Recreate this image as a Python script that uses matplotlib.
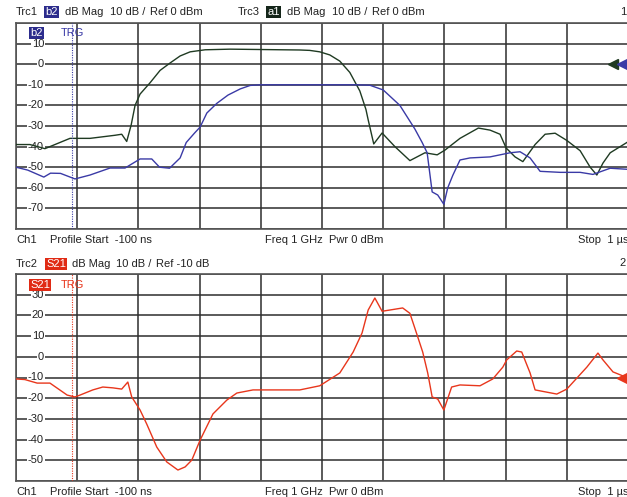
import numpy as np
import matplotlib
matplotlib.use('Agg')
import matplotlib.pyplot as plt
from matplotlib.transforms import blended_transform_factory

plt.rcParams['font.family'] = ['Liberation Sans', 'DejaVu Sans']
plt.rcParams['font.size'] = 8

# time axis (ns) and screen scales
t_start, t_stop = -100, 1000
upper_ylim = (-80, 20)
lower_ylim = (-60, 40)
upper_ticks = [10, 0, -10, -20, -30, -40, -50, -60, -70]
lower_ticks = [30, 20, 10, 0, -10, -20, -30, -40, -50]
ref_upper = 0
ref_lower = -10

# Trc3 a1 (dark green)
a1_t = [-100, -75, -48, -30, -3, 33, 78, 90, 99, 107, 114, 123, 141, 159, 177, 195,
        213, 240, 285, 410, 428, 446, 464, 482, 500, 518, 529, 533, 543, 558, 581,
        608, 635, 657, 671, 698, 731, 752, 770, 781, 797, 811, 833, 851, 869, 890,
        914, 932, 944, 955, 968, 998]
a1_db = [-39, -39, -41, -39, -36, -36, -34.5, -34, -37.5, -29.5, -20, -14.5, -9, -3, 0.6, 4,
         6, 7, 7.3, 6.9, 6.7, 6, 4.5, 1.5, -4, -13, -22, -27, -38.7, -33.4, -40,
         -46.8, -43, -44, -41.7, -36, -31, -32, -34, -40.7, -45, -47.3, -39, -34, -33.5, -37,
         -42, -50, -53.8, -48, -43, -38]

# Trc1 b2 (blue)
b2_t = [-100, -79, -50, -38, -20, 6, 33, 69, 96, 123, 144, 158, 176, 195, 206, 221, 231,
        243, 261, 281, 303, 321, 339, 513, 536, 560, 590, 617, 630, 639, 648, 658, 669,
        676, 685, 698, 716, 752, 788, 806, 824, 842, 878, 914, 937, 968, 998]
b2_db = [-50, -51.4, -54.8, -52.9, -53, -55.7, -53.8, -50.4, -50.4, -46, -46, -50, -50.5, -45.5, -38, -33.4, -30.5,
         -23.7, -19, -15, -12, -10.3, -10, -10, -10.2, -12.5, -20, -31.5, -38, -43, -62, -63.5, -68,
         -60, -54, -46.5, -45.5, -45, -43, -42.5, -45.5, -52, -52.5, -52.5, -53.5, -50.5, -51]

# Trc2 S21 (red)
s21_t = [-100, -84, -62, -39, -8, 6, 15, 38, 56, 74, 90, 101, 108, 123, 135, 153, 171,
         191, 204, 216, 231, 254, 279, 297, 326, 410, 446, 482, 506, 522, 533, 545, 558,
         572, 595, 608, 621, 631, 640, 648, 658, 669, 683, 698, 734, 757, 775, 782, 800,
         809, 824, 833, 872, 890, 926, 946, 955, 973, 998]
s21_db = [-10.7, -11, -12.7, -12.7, -18.5, -19.4, -18.5, -16, -14.6, -15, -15.6, -12.2, -19.4, -25.7, -32.5, -43.6, -50.8,
          -54.7, -53.2, -49.9, -40.2, -27.6, -20.9, -17.5, -16, -16, -14, -7.8, 2.3, 11.5, 22.6, 28.4, 22,
          22.6, 23.6, 21, 10.5, 2.3, -7.8, -19.4, -20.4, -25.7, -14.6, -13.6, -14, -10.7, -5, -1.5, 2.8,
          2.3, -7.8, -16, -18, -15.6, -5, 1.8, -1.5, -7.3, -10]

blue = '#3a3aa6'
green = '#1f3a22'
red = '#e8361c'
grid_c = '#2e2e2e'

W, H = 627, 497
fig = plt.figure(figsize=(W / 100, H / 100), dpi=100)


def px_ax(top, bottom):
    return [16 / W, 1 - bottom / H, 612 / W, (bottom - top) / H]


def setup(ax, ylim, ticks):
    ax.set_xlim(t_start, t_stop)
    ax.set_ylim(*ylim)
    ax.set_xticks(np.linspace(t_start, t_stop, 11))
    ax.set_yticks(np.arange(ylim[0], ylim[1] + 1, 10))
    ax.tick_params(length=0, labelbottom=False, labelleft=False)
    ax.grid(True, color=grid_c, lw=1.1)
    for s in ax.spines.values():
        s.set_color('#555555')
        s.set_linewidth(1.2)
    tr = blended_transform_factory(ax.transAxes, ax.transData)
    for v in ticks:
        ax.text(28 / 612, v, str(v), transform=tr, ha='right', va='center',
                fontsize=8, color='#222222',
                bbox=dict(facecolor='white', edgecolor='none', pad=0.6), zorder=3)


def ftext(x, y, s, color='#222222', box=None, **kw):
    kwargs = dict(fontsize=8, color=color, va='center', ha='left')
    kwargs.update(kw)
    if box:
        kwargs['color'] = 'white'
        kwargs['bbox'] = dict(facecolor=box, edgecolor='none', pad=0.8)
    fig.text(x / W, 1 - y / H, s, **kwargs)


# ---- upper screen (Trc1 / Trc3)
ax1 = fig.add_axes(px_ax(23, 229))
setup(ax1, upper_ylim, upper_ticks)
ax1.plot(a1_t, a1_db, color=green, lw=1.0, zorder=4)
ax1.plot(b2_t, b2_db, color=blue, lw=1.0, zorder=4)
ax1.axvline(0, color=blue, lw=0.8, ls=(0, (1, 1.2)), zorder=4)
tr1 = blended_transform_factory(ax1.transAxes, ax1.transData)
ax1.plot([0.975], [ref_upper], marker='<', ms=7, color=green, transform=tr1, clip_on=False, zorder=5)
ax1.plot([0.99], [ref_upper], marker='<', ms=7, color=blue, transform=tr1, clip_on=False, zorder=5)

ftext(16, 12, 'Trc1')
ftext(45, 12, 'b2', box='#2c2c8c')
ftext(65, 12, 'dB Mag')
ftext(110, 12, '10 dB /')
ftext(150, 12, 'Ref 0 dBm')
ftext(238, 12, 'Trc3')
ftext(267, 12, 'a1', box='#15261a')
ftext(287, 12, 'dB Mag')
ftext(332, 12, '10 dB /')
ftext(372, 12, 'Ref 0 dBm')
ftext(626, 12, '1', ha='right')
ftext(30, 33, 'b2', box='#2c2c8c')
ftext(61, 33, 'TRG', color=blue)
ftext(16, 240, 'Ch1')
ftext(50, 240, 'Profile Start  -100 ns')
ftext(265, 240, 'Freq 1 GHz  Pwr 0 dBm')
ftext(578, 240, 'Stop  1 \u00b5s')

# ---- lower screen (Trc2)
ax2 = fig.add_axes(px_ax(274, 481))
setup(ax2, lower_ylim, lower_ticks)
ax2.plot(s21_t, s21_db, color=red, lw=1.0, zorder=4)
ax2.axvline(0, color=red, lw=0.8, ls=(0, (1, 1.2)), zorder=4)
tr2 = blended_transform_factory(ax2.transAxes, ax2.transData)
ax2.plot([0.99], [ref_lower], marker='<', ms=7, color=red, transform=tr2, clip_on=False, zorder=5)

ftext(16, 264, 'Trc2')
ftext(46, 264, 'S21', box='#e02a14')
ftext(72, 264, 'dB Mag')
ftext(116, 264, '10 dB /')
ftext(156, 264, 'Ref -10 dB')
ftext(626, 263, '2', ha='right')
ftext(30, 285, 'S21', box='#e02a14')
ftext(61, 285, 'TRG', color=red)
ftext(16, 492, 'Ch1')
ftext(50, 492, 'Profile Start  -100 ns')
ftext(265, 492, 'Freq 1 GHz  Pwr 0 dBm')
ftext(578, 492, 'Stop  1 \u00b5s')

fig.savefig('out.png', dpi=100)
